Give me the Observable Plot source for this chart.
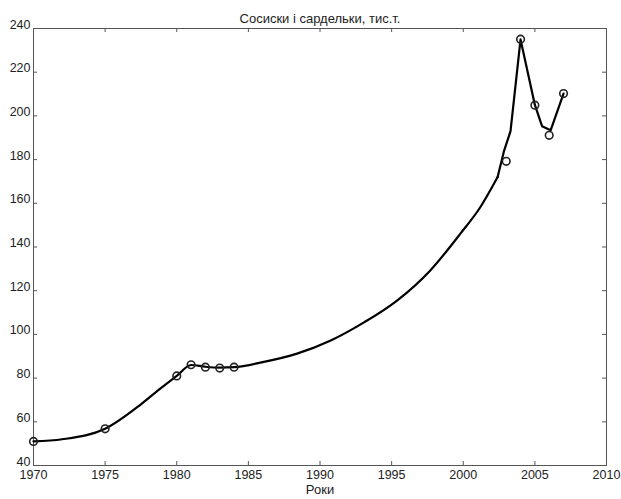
<!DOCTYPE html>
<html>
<head>
<meta charset="utf-8">
<script src="https://cdn.jsdelivr.net/npm/d3@7"></script>
<script src="https://cdn.jsdelivr.net/npm/@observablehq/plot@0.6"></script>
<style>
  html, body { margin: 0; padding: 0; background: #fff; }
</style>
</head>
<body>
<div id="chart"></div>
<script>
const chartTitle = "Сосиски і сардельки, тис.т.";
const xLabel = "Роки";

// Observed data points (circles)
const pointYears  = [1970, 1975, 1980, 1981, 1982, 1983, 1984, 2003, 2004, 2005, 2006, 2007];
const pointValues = [51, 56.8, 81, 86.1, 85.0, 84.6, 85.0, 179.2, 235.1, 204.9, 191.1, 210.2];

// Smoothed line (smooth part, then the angular end part)
const smoothYears  = [1970, 1972, 1975, 1977.5, 1979, 1980, 1981, 1982, 1983, 1984, 1986, 1988.4, 1990.75, 1993.1, 1995.4, 1997.7, 1999.8, 2001.2, 2002.4];
const smoothValues = [51, 52, 56.8, 68, 76, 81, 86, 85.2, 84.8, 85, 87.3, 91.2, 97.2, 105.6, 115.6, 129.3, 146.1, 158.3, 172];
const endYears  = [2002.4, 2002.85, 2003.3, 2004, 2005, 2005.5, 2006.1, 2007];
const endValues = [172, 184, 193, 235, 205, 195.3, 193.4, 210.2];

const xTicks = [1970, 1975, 1980, 1985, 1990, 1995, 2000, 2005, 2010];
const yTicks = [40, 60, 80, 100, 120, 140, 160, 180, 200, 220, 240];

const points = pointYears.map((y, i) => ({year: y, value: pointValues[i]}));
const smooth = smoothYears.map((y, i) => ({year: y, value: smoothValues[i]}));
const end = endYears.map((y, i) => ({year: y, value: endValues[i]}));

const W = 621, H = 499;
const mL = 33, mR = 15, mT = 28, mB = 34;
const plotW = W - mL - mR, plotH = H - mT - mB;
const tick = 4;
const axisColor = "#555";

const chart = Plot.plot({
  width: W,
  height: H,
  marginLeft: mL,
  marginRight: mR,
  marginTop: mT,
  marginBottom: mB,
  style: {fontFamily: "'Liberation Sans', Arial, sans-serif", fontSize: "12.5px", background: "#fff", color: "#222"},
  x: {domain: [1970, 2010], ticks: xTicks},
  y: {domain: [40, 240], ticks: yTicks},
  marks: [
    Plot.frame({stroke: axisColor, strokeWidth: 1}),
    Plot.ruleX(xTicks, {stroke: axisColor, insetTop: plotH - tick}),
    Plot.ruleX(xTicks, {stroke: axisColor, insetBottom: plotH - tick}),
    Plot.ruleY(yTicks, {stroke: axisColor, insetRight: plotW - tick}),
    Plot.ruleY(yTicks, {stroke: axisColor, insetLeft: plotW - tick}),
    Plot.axisX({ticks: xTicks, tickSize: 0, tickPadding: 5, fontSize: 12.5, tickFormat: d => String(d), label: null, fill: "#222"}),
    Plot.axisY({ticks: yTicks, tickSize: 0, tickPadding: 3, dy: -4, fontSize: 12.5, tickFormat: d => String(d), label: null, fill: "#222"}),
    Plot.line(smooth, {x: "year", y: "value", stroke: "#000", strokeWidth: 2.2, curve: "monotone-x"}),
    Plot.line(end, {x: "year", y: "value", stroke: "#000", strokeWidth: 2.2, strokeLinejoin: "round", curve: "linear"}),
    Plot.dot(points, {x: "year", y: "value", r: 3.8, stroke: "#222", strokeWidth: 1.6, fill: "none"}),
    Plot.text([chartTitle], {frameAnchor: "top", dy: -15, text: d => d, fontSize: 13, fill: "#222"}),
    Plot.text([xLabel], {frameAnchor: "bottom", dy: 28, text: d => d, fontSize: 13, fill: "#222"})
  ]
});

document.getElementById("chart").appendChild(chart);
</script>
</body>
</html>
